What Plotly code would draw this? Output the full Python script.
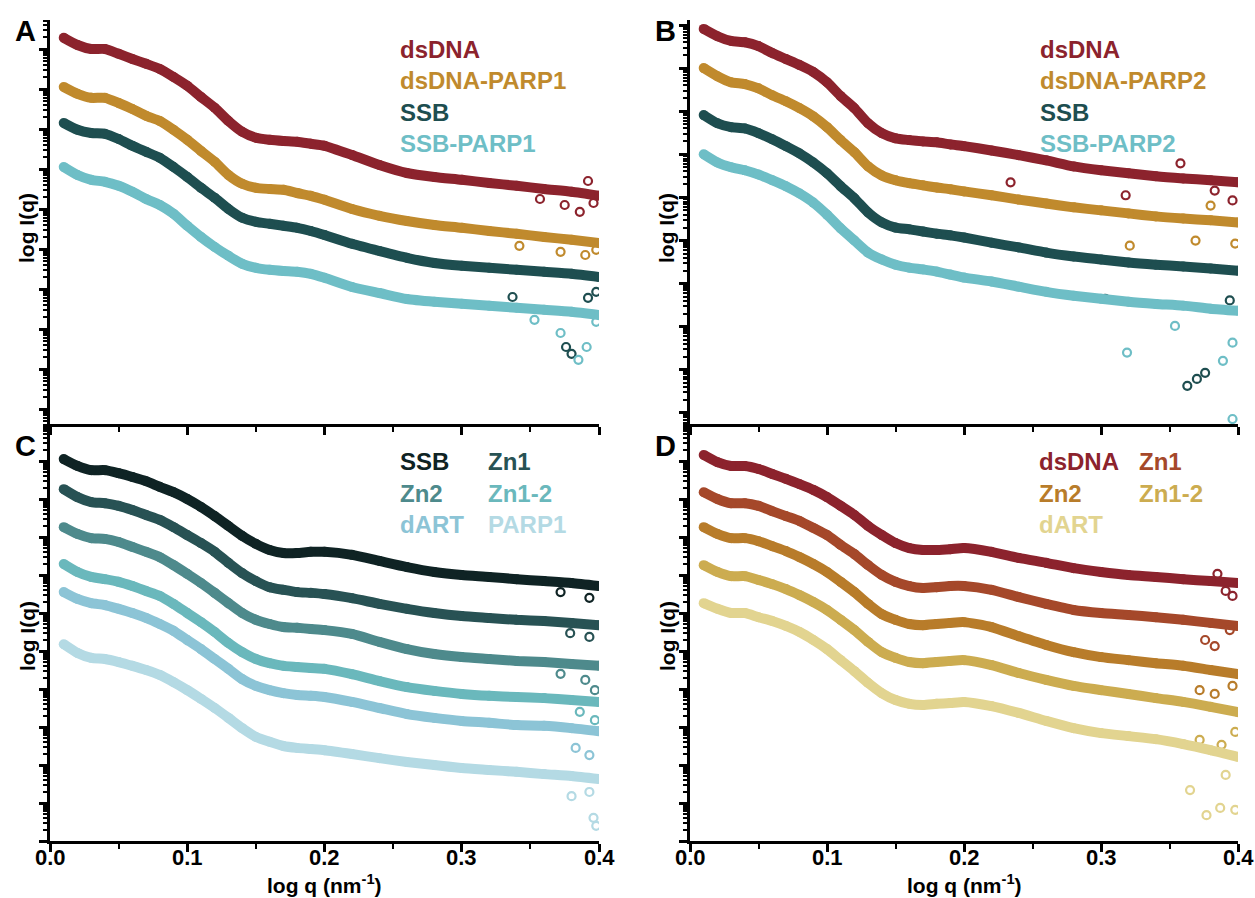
import plotly.graph_objects as go

W, H = 1255, 898

# ---------------- data (log10 I, arbitrary units; q in log q units) ----------------
q = [0.01, 0.02, 0.03, 0.04, 0.05, 0.06, 0.07, 0.08, 0.09, 0.10,
     0.11, 0.12, 0.13, 0.14, 0.15, 0.16, 0.17, 0.18, 0.19, 0.20,
     0.22, 0.24, 0.26, 0.28, 0.30, 0.32, 0.34, 0.36, 0.38, 0.40]

# Panel A
a_dsdna = [9.28, 9.10, 9.00, 9.00, 8.88, 8.75, 8.63, 8.50, 8.30, 8.08, 7.80, 7.53, 7.20, 6.93, 6.78,
           6.73, 6.70, 6.68, 6.63, 6.58, 6.35, 6.10, 5.90, 5.80, 5.73, 5.65, 5.58, 5.50, 5.43, 5.33]
a_dsdna_parp1 = [8.05, 7.88, 7.78, 7.78, 7.65, 7.50, 7.33, 7.20, 6.98, 6.73, 6.45, 6.18, 5.85, 5.63, 5.53,
                 5.50, 5.48, 5.40, 5.33, 5.23, 5.00, 4.83, 4.70, 4.60, 4.53, 4.45, 4.38, 4.30, 4.23, 4.15]
a_ssb = [7.15, 6.98, 6.90, 6.88, 6.75, 6.58, 6.43, 6.28, 6.05, 5.80, 5.53, 5.28, 5.00, 4.78, 4.68,
         4.63, 4.58, 4.53, 4.45, 4.35, 4.13, 3.95, 3.78, 3.65, 3.58, 3.53, 3.48, 3.43, 3.38, 3.30]
a_ssb_parp1 = [6.05, 5.85, 5.73, 5.68, 5.58, 5.43, 5.25, 5.10, 4.88, 4.58, 4.30, 4.05, 3.83, 3.63, 3.53,
               3.48, 3.45, 3.43, 3.38, 3.28, 3.05, 2.90, 2.75, 2.68, 2.63, 2.58, 2.53, 2.48, 2.43, 2.35]

# Panel B
b_dsdna = [8.91, 8.74, 8.63, 8.60, 8.51, 8.35, 8.21, 8.07, 7.91, 7.67, 7.35, 7.07, 6.72, 6.49, 6.37,
           6.33, 6.30, 6.28, 6.23, 6.19, 6.09, 5.98, 5.86, 5.72, 5.63, 5.56, 5.49, 5.44, 5.40, 5.35]
b_dsdna_parp2 = [8.00, 7.81, 7.67, 7.63, 7.53, 7.37, 7.23, 7.07, 6.88, 6.63, 6.33, 6.05, 5.72, 5.51, 5.40,
                 5.33, 5.28, 5.23, 5.19, 5.14, 5.05, 4.95, 4.86, 4.77, 4.70, 4.63, 4.56, 4.51, 4.47, 4.42]
b_ssb = [6.91, 6.72, 6.63, 6.60, 6.49, 6.35, 6.19, 6.02, 5.81, 5.56, 5.26, 4.98, 4.65, 4.42, 4.30,
         4.26, 4.21, 4.16, 4.12, 4.07, 3.95, 3.84, 3.72, 3.63, 3.56, 3.49, 3.44, 3.40, 3.35, 3.30]
b_ssb_parp2 = [6.00, 5.81, 5.70, 5.63, 5.53, 5.40, 5.26, 5.09, 4.88, 4.60, 4.28, 4.00, 3.72, 3.56, 3.44,
               3.37, 3.33, 3.28, 3.21, 3.14, 3.05, 2.93, 2.81, 2.72, 2.65, 2.58, 2.53, 2.49, 2.42, 2.37]

# Panel C
c_ssb = [10.05, 9.87, 9.76, 9.76, 9.68, 9.58, 9.47, 9.32, 9.18, 9.00, 8.79, 8.55, 8.29, 8.03, 7.82,
         7.66, 7.58, 7.58, 7.61, 7.61, 7.53, 7.37, 7.21, 7.08, 7.00, 6.95, 6.89, 6.84, 6.79, 6.71]
c_zn1 = [9.26, 9.05, 8.92, 8.89, 8.82, 8.71, 8.58, 8.45, 8.26, 8.05, 7.84, 7.61, 7.32, 7.05, 6.84,
         6.68, 6.61, 6.55, 6.53, 6.50, 6.39, 6.24, 6.11, 6.00, 5.92, 5.87, 5.82, 5.79, 5.74, 5.68]
c_zn2 = [8.26, 8.08, 7.97, 7.95, 7.87, 7.74, 7.61, 7.47, 7.26, 7.03, 6.79, 6.53, 6.26, 6.00, 5.82,
         5.71, 5.63, 5.61, 5.58, 5.55, 5.45, 5.24, 5.05, 4.92, 4.84, 4.79, 4.74, 4.71, 4.66, 4.61]
c_zn12 = [7.29, 7.08, 6.95, 6.89, 6.82, 6.71, 6.58, 6.45, 6.24, 6.00, 5.76, 5.50, 5.21, 4.97, 4.79,
          4.68, 4.61, 4.58, 4.55, 4.53, 4.39, 4.21, 4.05, 3.95, 3.87, 3.82, 3.79, 3.76, 3.71, 3.66]
c_dart = [6.55, 6.37, 6.26, 6.21, 6.11, 6.00, 5.87, 5.71, 5.53, 5.29, 5.05, 4.79, 4.53, 4.26, 4.08,
          3.97, 3.89, 3.84, 3.82, 3.79, 3.66, 3.50, 3.34, 3.24, 3.16, 3.11, 3.05, 3.03, 2.97, 2.89]
c_parp1 = [5.18, 4.95, 4.82, 4.79, 4.71, 4.61, 4.50, 4.37, 4.18, 3.97, 3.74, 3.50, 3.24, 2.97, 2.74,
           2.61, 2.50, 2.45, 2.42, 2.39, 2.29, 2.18, 2.08, 2.00, 1.92, 1.87, 1.82, 1.76, 1.71, 1.63]

# Panel D
d_dsdna = [10.16, 9.97, 9.87, 9.87, 9.79, 9.66, 9.53, 9.39, 9.24, 9.05, 8.82, 8.58, 8.29, 8.05, 7.84,
           7.71, 7.66, 7.66, 7.68, 7.71, 7.61, 7.45, 7.32, 7.18, 7.08, 7.00, 6.95, 6.89, 6.84, 6.79]
d_zn1 = [9.18, 9.00, 8.89, 8.89, 8.82, 8.68, 8.55, 8.42, 8.24, 8.05, 7.79, 7.55, 7.26, 7.00, 6.82,
         6.71, 6.66, 6.68, 6.71, 6.71, 6.61, 6.42, 6.24, 6.08, 6.00, 5.95, 5.89, 5.82, 5.74, 5.66]
d_zn2 = [8.26, 8.08, 7.97, 7.97, 7.89, 7.76, 7.63, 7.47, 7.29, 7.08, 6.82, 6.55, 6.24, 5.97, 5.82,
         5.71, 5.68, 5.71, 5.74, 5.76, 5.63, 5.39, 5.16, 4.97, 4.84, 4.76, 4.68, 4.61, 4.50, 4.39]
d_zn12 = [7.26, 7.08, 6.97, 6.97, 6.87, 6.76, 6.63, 6.47, 6.29, 6.08, 5.82, 5.55, 5.24, 4.97, 4.82,
          4.71, 4.68, 4.71, 4.74, 4.76, 4.63, 4.42, 4.24, 4.08, 3.97, 3.87, 3.76, 3.66, 3.53, 3.39]
d_dart = [6.26, 6.11, 6.00, 6.00, 5.89, 5.79, 5.66, 5.50, 5.29, 5.05, 4.76, 4.47, 4.16, 3.89, 3.71,
          3.61, 3.58, 3.61, 3.63, 3.66, 3.55, 3.37, 3.16, 2.97, 2.84, 2.76, 2.68, 2.55, 2.39, 2.21]

# scattered high-q points (q, log10 I)
a_dsdna_pts = [(0.375, 5.10), (0.386, 4.93), (0.396, 5.15), (0.392, 5.70), (0.357, 5.25)]
a_dsdna_parp1_pts = [(0.372, 3.93), (0.390, 3.85), (0.398, 3.98), (0.342, 4.08)]
a_ssb_pts = [(0.337, 2.80), (0.376, 1.55), (0.380, 1.38), (0.392, 2.78), (0.398, 2.93)]
a_ssb_parp1_pts = [(0.385, 1.23), (0.391, 1.55), (0.398, 2.18), (0.372, 1.90), (0.353, 2.23)]
b_dsdna_pts = [(0.234, 5.35), (0.318, 5.05), (0.383, 5.16), (0.396, 4.93), (0.358, 5.79)]
b_dsdna_parp2_pts = [(0.321, 3.88), (0.369, 4.00), (0.398, 3.93), (0.380, 4.81)]
b_ssb_pts = [(0.363, 0.63), (0.370, 0.79), (0.376, 0.93), (0.303, 2.65), (0.394, 2.61)]
b_ssb_parp2_pts = [(0.319, 1.40), (0.389, 1.21), (0.396, 1.63), (0.396, -0.14), (0.354, 2.02)]
c_ssb_pts = [(0.393, 6.40), (0.372, 6.55)]
c_zn1_pts = [(0.393, 5.37), (0.379, 5.47)]
c_zn2_pts = [(0.390, 4.24), (0.397, 3.97), (0.372, 4.40)]
c_zn12_pts = [(0.386, 3.40), (0.397, 3.18)]
c_dart_pts = [(0.383, 2.45), (0.393, 2.26)]
c_parp1_pts = [(0.398, 0.40), (0.396, 0.61), (0.380, 1.18), (0.393, 1.29)]
d_dsdna_pts = [(0.391, 6.58), (0.396, 6.45), (0.385, 7.03)]
d_zn1_pts = [(0.376, 5.29), (0.383, 5.13), (0.394, 5.55)]
d_zn2_pts = [(0.372, 3.97), (0.383, 3.87), (0.396, 4.08)]
d_zn12_pts = [(0.372, 2.66), (0.388, 2.53), (0.398, 2.87)]
d_dart_pts = [(0.365, 1.34), (0.377, 0.68), (0.387, 0.87), (0.398, 0.82), (0.391, 1.74)]

x_ticks = [0.0, 0.1, 0.2, 0.3, 0.4]
x_tick_labels = ["0.0", "0.1", "0.2", "0.3", "0.4"]

# ---------------- colours ----------------
RED = "#8C232D"
GOLD = "#C08A2D"
DTEAL = "#1E4E50"
LTEAL = "#6EBEC6"
C_COLS = ["#0F2324", "#285254", "#4E8A8C", "#6AB8BC", "#8CC4D6", "#B4DAE4"]
D_COLS = ["#8C232D", "#A5482A", "#B87C2A", "#CCAC50", "#E2D490"]

panels = [
    ("x", "y", [(a_dsdna, a_dsdna_pts, RED), (a_dsdna_parp1, a_dsdna_parp1_pts, GOLD),
                (a_ssb, a_ssb_pts, DTEAL), (a_ssb_parp1, a_ssb_parp1_pts, LTEAL)]),
    ("x2", "y2", [(b_dsdna, b_dsdna_pts, RED), (b_dsdna_parp2, b_dsdna_parp2_pts, GOLD),
                  (b_ssb, b_ssb_pts, DTEAL), (b_ssb_parp2, b_ssb_parp2_pts, LTEAL)]),
    ("x3", "y3", [(c_ssb, c_ssb_pts, C_COLS[0]), (c_zn1, c_zn1_pts, C_COLS[1]),
                  (c_zn2, c_zn2_pts, C_COLS[2]), (c_zn12, c_zn12_pts, C_COLS[3]),
                  (c_dart, c_dart_pts, C_COLS[4]), (c_parp1, c_parp1_pts, C_COLS[5])]),
    ("x4", "y4", [(d_dsdna, d_dsdna_pts, D_COLS[0]), (d_zn1, d_zn1_pts, D_COLS[1]),
                  (d_zn2, d_zn2_pts, D_COLS[2]), (d_zn12, d_zn12_pts, D_COLS[3]),
                  (d_dart, d_dart_pts, D_COLS[4])]),
]

fig = go.Figure()
for xa, ya, curves in panels:
    for vals, pts, col in curves:
        fig.add_trace(go.Scatter(
            x=q, y=[10 ** v for v in vals], xaxis=xa, yaxis=ya,
            mode="lines+markers", line=dict(color=col, width=10, shape="spline", smoothing=0.6),
            marker=dict(size=10, color=col, line=dict(width=0)),
            hoverinfo="skip", showlegend=False))
        fig.add_trace(go.Scatter(
            x=[p[0] for p in pts], y=[10 ** p[1] for p in pts], xaxis=xa, yaxis=ya,
            mode="markers", marker=dict(symbol="circle-open", size=8, color=col, line=dict(width=2.2)),
            hoverinfo="skip", showlegend=False))

FONT = "Liberation Sans, Arial, sans-serif"


def xax(domain):
    return dict(domain=domain, range=[0, 0.4], showline=True, linewidth=3, linecolor="black",
                ticks="outside", ticklen=8, tickwidth=2.5, tickcolor="black",
                tickvals=x_ticks, showticklabels=False, showgrid=False, zeroline=False, automargin=False,
                minor=dict(ticks="outside", dtick=0.05, tick0=0, ticklen=5, tickwidth=2, tickcolor="black",
                           showgrid=False))


def yax(domain, rng, anchor):
    return dict(domain=domain, type="log", range=rng, anchor=anchor, showline=True, linewidth=3,
                linecolor="black", ticks="outside", ticklen=8, tickwidth=2.5, tickcolor="black",
                dtick=1, showticklabels=False, showgrid=False, zeroline=False, automargin=False,
                minor=dict(ticks="outside", dtick="D1", ticklen=4, tickwidth=1.5, tickcolor="black",
                           showgrid=False))


xL = [50 / W, 599 / W]
xR = [690 / W, 1238 / W]
yT = [1 - 424 / H, 1 - 20 / H]
yB = [1 - 841 / H, 1 - 424 / H]

fig.update_layout(
    width=W, height=H, margin=dict(l=0, r=0, t=0, b=0, autoexpand=False),
    paper_bgcolor="white", plot_bgcolor="white", showlegend=False,
    xaxis=dict(**xax(xL), anchor="y"),
    xaxis2=dict(**xax(xR), anchor="y2"),
    xaxis3=dict(**xax(xL), anchor="y3"),
    xaxis4=dict(**xax(xR), anchor="y4"),
    yaxis=yax(yT, [-0.375, 9.725], "x"),
    yaxis2=yax(yT, [-0.256, 9.116], "x2"),
    yaxis3=yax(yB, [0, 10.974], "x3"),
    yaxis4=yax(yB, [0, 10.974], "x4"),
)


def P(x, y):
    return x / W, 1 - y / H


ann = []


def text(x, y, s, size, color="black", xanchor="center", angle=0):
    px, py = P(x, y)
    ann.append(dict(x=px, y=py, xref="paper", yref="paper", text=s, showarrow=False,
                    xanchor=xanchor, yanchor="middle", textangle=angle,
                    font=dict(family=FONT, size=size, color=color, weight="bold")))


# x tick labels for the bottom panels, placed on the axes' own data scale
for xa in ["x3", "x4"]:
    for v, lab in zip(x_ticks, x_tick_labels):
        ann.append(dict(x=v, y=1 - 857 / H, xref=xa, yref="paper", text=lab, showarrow=False,
                        xanchor="center", yanchor="middle",
                        font=dict(family=FONT, size=22, color="black", weight="bold")))

# panel letters
text(25, 31, "A", 29)
text(665, 31, "B", 29)
text(25, 446, "C", 29)
text(665, 446, "D", 29)

# axis titles
for x0, yc in [(27, 228), (667, 228), (27, 636), (667, 636)]:
    text(x0, yc, "log I(q)", 21, angle=-90)
for xc in [324, 964]:
    text(xc, 884, "log q (nm<sup>-1</sup>)", 21)

# legends
for i, (s, c) in enumerate([("dsDNA", RED), ("dsDNA-PARP1", GOLD), ("SSB", DTEAL), ("SSB-PARP1", LTEAL)]):
    text(398, 49 + 31.5 * i, s, 24, c, "left")
for i, (s, c) in enumerate([("dsDNA", RED), ("dsDNA-PARP2", GOLD), ("SSB", DTEAL), ("SSB-PARP2", LTEAL)]):
    text(1038, 49 + 31.5 * i, s, 24, c, "left")
c_names = ["SSB", "Zn1", "Zn2", "Zn1-2", "dART", "PARP1"]
for i, (s, c) in enumerate(zip(c_names, C_COLS)):
    text(398 + 88 * (i % 2), 462 + 31 * (i // 2), s, 24, c, "left")
d_names = ["dsDNA", "Zn1", "Zn2", "Zn1-2", "dART"]
for i, (s, c) in enumerate(zip(d_names, D_COLS)):
    text(1037 + 100 * (i % 2), 462 + 31 * (i // 2), s, 24, c, "left")

fig.update_layout(annotations=ann)
fig.write_html(
    "out.html",
    config={"displayModeBar": False},
    post_script="document.body.style.margin='0';document.body.style.overflow='hidden';",
)
